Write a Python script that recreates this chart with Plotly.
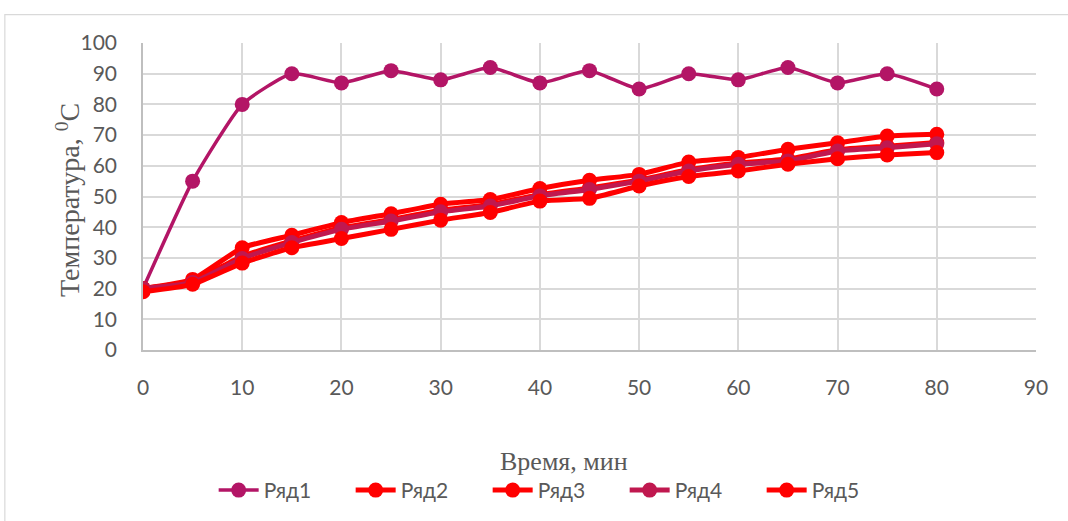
import plotly.graph_objects as go

time_min = [0, 5, 10, 15, 20, 25, 30, 35, 40, 45, 50, 55, 60, 65, 70, 75, 80]
row1 = [20, 55, 80, 90, 87, 91, 88, 92, 87, 91, 85, 90, 88, 92, 87, 90, 85]
row2 = [20, 23, 33.3, 37.4, 41.5, 44.4, 47.5, 49, 52.6, 55.3, 57.2, 61.2, 62.7, 65.4, 67.5, 69.7, 70.3]
row3 = [20, 22.5, 30.5, 35.5, 39.8, 42.5, 45.5, 47.4, 50.6, 52.8, 55.4, 58.7, 60.9, 62.2, 65.2, 66.4, 67.6]
row4 = [20, 22, 29.8, 35, 39.3, 42, 45, 46.9, 50.2, 52.3, 55, 58.3, 60.5, 61.6, 64.8, 65.9, 67.2]
row5 = [19, 21.4, 28.3, 33.3, 36.3, 39.3, 42.3, 44.8, 48.5, 49.4, 53.4, 56.5, 58.3, 60.5, 62.3, 63.5, 64.3]

names = ["Ряд1", "Ряд2", "Ряд3", "Ряд4", "Ряд5"]
series = [row1, row2, row3, row4, row5]
colors = ["#B31566", "#FF0000", "#FF0000", "#C0184F", "#FF0000"]
widths = [3.5, 5, 5, 5, 5]
msizes = [15, 15, 15, 15, 15]

fig = go.Figure()
for n, s, c, w, m in zip(names, series, colors, widths, msizes):
    fig.add_trace(go.Scatter(
        x=time_min, y=s, name=n, mode="lines+markers",
        line=dict(color=c, width=w, shape="spline", smoothing=0.5),
        marker=dict(color=c, size=m),
    ))

grid = "#D9D9D9"
tickfont = dict(family="Lato, sans-serif", size=21, color="#595959")

L, T, R, B = 142.7, 43, 1036, 350.7
PW, PH = R - L, B - T

def px(x):
    return (x - L) / PW

def py(y):
    return (B - y) / PH

fig.update_layout(
    width=1068, height=521,
    margin=dict(l=L, r=1068 - R, t=T, b=521 - B),
    paper_bgcolor="white", plot_bgcolor="white",
    showlegend=True,
    legend=dict(orientation="h", x=px(556), xanchor="center", y=py(490), yanchor="middle",
                font=dict(family="Lato, sans-serif", size=21, color="#595959"),
                itemwidth=40, entrywidth=82, entrywidthmode="pixels", traceorder="normal"),
    xaxis=dict(range=[0, 90], dtick=10, tick0=0, showgrid=True, gridcolor=grid, gridwidth=1.5,
               zeroline=False, showline=True, linecolor="#BFBFBF", linewidth=1.5,
               ticks="outside", ticklen=18, tickcolor="rgba(0,0,0,0)", tickfont=tickfont),
    yaxis=dict(range=[0, 100], dtick=10, tick0=0, showgrid=True, gridcolor=grid, gridwidth=1.5,
               zeroline=False, showline=True, linecolor="#BFBFBF", linewidth=1.5,
               ticks="outside", ticklen=20, tickcolor="rgba(0,0,0,0)", tickfont=tickfont),
    annotations=[
        dict(text="Время, мин", xref="paper", yref="paper", x=px(564), y=py(462),
             xanchor="center", yanchor="middle", showarrow=False,
             font=dict(family="Liberation Serif, serif", size=26, color="#595959")),
        dict(text="Температура, <sup>0</sup>C", xref="paper", yref="paper",
             x=px(68), y=py(200), textangle=-90,
             xanchor="center", yanchor="middle", showarrow=False,
             font=dict(family="Liberation Serif, serif", size=28, color="#595959")),
    ],
    shapes=[
        dict(type="rect", xref="paper", yref="paper",
             x0=px(4.5), x1=px(1075),
             y0=py(530), y1=py(14.5),
             line=dict(color="#D9D9D9", width=1.2), layer="below"),
    ],
)

fig.write_html("out.html", config={"displayModeBar": False},
               post_script="document.body.style.margin='0';")
